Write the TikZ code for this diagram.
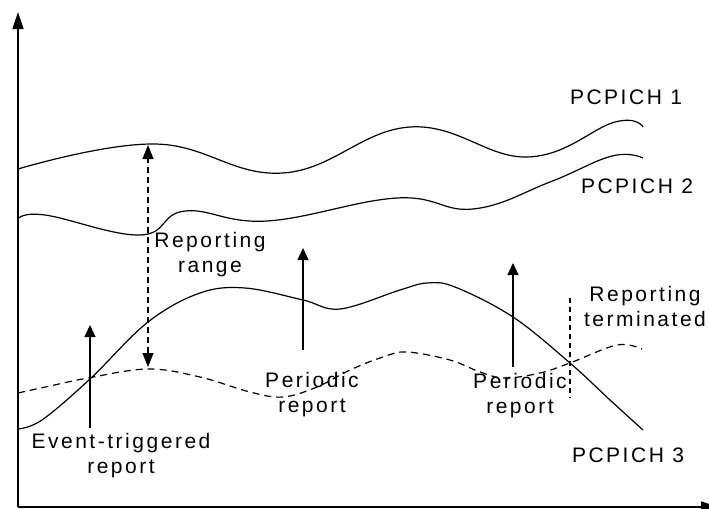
\documentclass[tikz,border=0pt]{standalone}
\usepackage{fontspec}
\setmainfont{Liberation Sans}[LetterSpace=12]
\usetikzlibrary{arrows.meta}
\tikzset{
  axis/.style={line width=0.8pt,-{Triangle[length=8.5pt,width=5.5pt]}},
  signal/.style={line width=0.6pt},
  filtered/.style={line width=0.6pt,dash pattern=on 3.5pt off 2.5pt},
  report/.style={line width=0.6pt,-{Triangle[length=6pt,width=5.5pt]}},
  spanarrow/.style={line width=0.6pt,dash pattern=on 3pt off 2pt,{Triangle[length=7pt,width=5.5pt]}-{Triangle[length=7pt,width=5.5pt]}},
  stopline/.style={line width=0.6pt,dash pattern=on 2.5pt off 2pt},
  tag/.style={font=\fontsize{10.5}{12.5}\selectfont,align=center,inner sep=0pt},
}
\begin{document}
\begin{tikzpicture}[x=0.5pt,y=-0.5pt]
  \useasboundingbox (0,0) rectangle (709,509);
  \clip (0,0) rectangle (709,509);
  \coordinate (o) at (18,507);
  \coordinate (ytop) at (18,12);
  \coordinate (xend) at (718,507);
  \draw[axis] (o) -- (ytop);
  \draw[axis] (o) -- (xend);
  \draw[signal] plot[smooth,tension=0.7] coordinates {(18,169) (155,144) (283,173) (410,127) (527,157) (615,122) (643,127)};
  \draw[signal] plot[smooth,tension=0.7] coordinates {(18,219) (45,215) (140,235) (185,211) (267,221) (397,198) (473,209) (550,182) (612,156) (643,158)};
  \draw[signal] plot[smooth,tension=0.6] coordinates {(18,429) (42,420) (90,379) (148,322) (200,293) (245,288) (303,300) (340,309) (400,290) (427,283) (455,287) (513,317) (570,363) (610,400) (643,430)};
  \draw[filtered] plot[smooth,tension=0.6] coordinates {(18,393) (50,386) (88,378) (148,369) (200,377) (250,392) (283,397) (317,387) (350,370) (383,357) (407,352) (450,360) (480,372) (505,378) (540,373) (570,363) (617,345) (642,349)};
  \coordinate (rrtop) at (148,145);
  \coordinate (rrbot) at (148,367);
  \draw[spanarrow] (rrbot) -- (rrtop);
  \coordinate (etA) at (90,428);
  \coordinate (etB) at (90,325);
  \draw[report] (etA) -- (etB);
  \coordinate (prA) at (303,350);
  \coordinate (prB) at (303,248);
  \draw[report] (prA) -- (prB);
  \coordinate (psA) at (513,367);
  \coordinate (psB) at (513,263);
  \draw[report] (psA) -- (psB);
  \coordinate (stA) at (570,298);
  \coordinate (stB) at (570,398);
  \draw[stopline] (stA) -- (stB);
  \node[tag,anchor=base] (pc1) at (626,104) {PCPICH 1};
  \node[tag,anchor=base] (pc2) at (637,193) {PCPICH 2};
  \node[tag,anchor=base] (pc3) at (628,462) {PCPICH 3};
  \node[tag] (rr) at (210,255) {Reporting\\range};
  \node[tag] (et) at (121,456) {Event-triggered\\report};
  \node[tag] (pr1) at (312,395) {Periodic\\report};
  \node[tag] (pr2) at (520,396) {Periodic\\report};
  \node[tag] (rt) at (645,306) {Reporting\\terminated};
\end{tikzpicture}
\end{document}
